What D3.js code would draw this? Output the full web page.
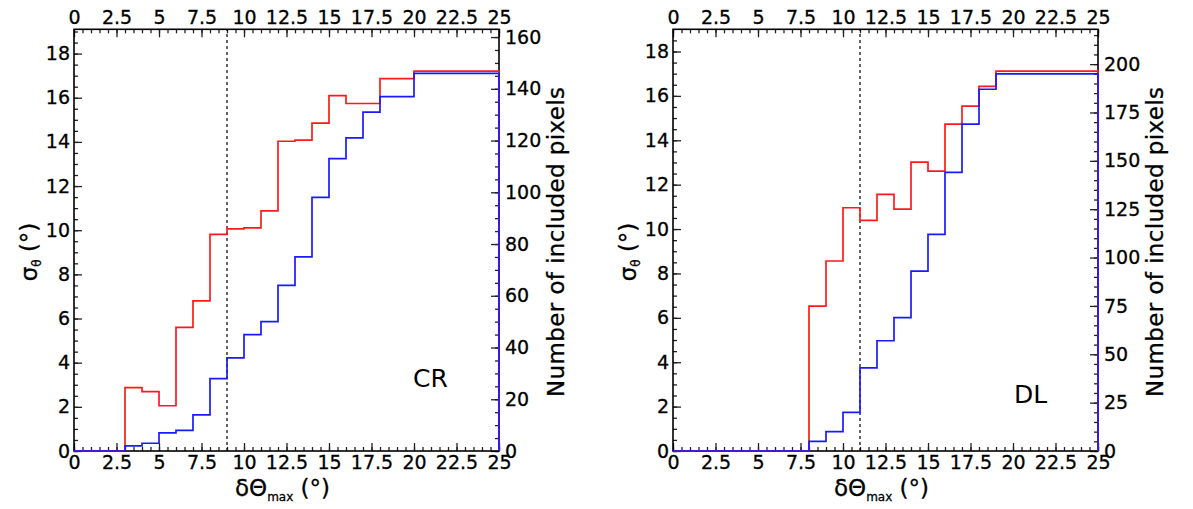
<!DOCTYPE html>
<html>
<head>
<meta charset="utf-8">
<script src="https://cdn.jsdelivr.net/npm/d3@7"></script>
<style>
  body { margin: 0; background: #fff; }
  svg text { font-family: "DejaVu Sans", sans-serif; fill: #000; }
</style>
</head>
<body>
<svg id="chart" width="1193" height="509"></svg>
<script>
// bin edges in degrees (last bin is 20-25)
var binEdges = [0, 1, 2, 3, 4, 5, 6, 7, 8, 9, 10, 11, 12, 13, 14, 15, 16, 17, 18, 19, 20, 25];

// CR panel
var crSigma = [0, 0, 0, 2.87, 2.69, 2.05, 5.6, 6.8, 9.81, 10.06, 10.11, 10.88, 14.03, 14.08, 14.85, 16.1, 15.74, 15.74, 16.87, 16.87, 17.21];
var crPixels = [0, 0, 0, 2, 3, 7, 8, 14, 28, 36, 45, 50, 64, 75, 98, 113, 121, 131, 137, 137, 146];
var crCut = 9;

// DL panel
var dlSigma = [0, 0, 0, 0, 0, 0, 0, 0, 6.53, 8.56, 10.96, 10.39, 11.56, 10.9, 13.02, 12.61, 14.73, 15.54, 16.43, 17.12, 17.12];
var dlPixels = [0, 0, 0, 0, 0, 0, 0, 0, 5, 10, 20, 43, 57, 69, 93, 112, 144, 169, 187, 195, 195];
var dlCut = 11;

var xTicks = [0, 2.5, 5, 7.5, 10, 12.5, 15, 17.5, 20, 22.5, 25];
var sigmaTicks = [0, 2, 4, 6, 8, 10, 12, 14, 16, 18];
var crPixelTicks = [0, 20, 40, 60, 80, 100, 120, 140, 160];
var dlPixelTicks = [0, 25, 50, 75, 100, 125, 150, 175, 200];

var svg = d3.select("#chart");

function stepPoints(values) {
    var pts = [[binEdges[0], 0]];
    values.forEach(function(v, i) {
        pts.push([binEdges[i], v]);
        pts.push([binEdges[i + 1], v]);
    });
    pts.push([binEdges[binEdges.length - 1], 0]);
    return pts;
}

function drawPanel(opt) {
    var top = 29.3, bottom = 451;
    var g = svg.append("g");

    var x = d3.scaleLinear().domain([0, 25]).range([opt.x0, opt.x1]);
    var y = d3.scaleLinear().domain([0, opt.sigmaMax]).range([bottom, top]);
    var y2 = d3.scaleLinear().domain([0, opt.pixMax]).range([bottom, top]);

    var minorX = d3.range(0, 25.01, 0.5);
    var minorY = d3.range(0, opt.sigmaMax, 0.5);
    var minorY2 = d3.range(0, opt.pixMax, 5);

    function clean(sel) {
        sel.select(".domain").remove();
        sel.selectAll("line").attr("stroke", "#222").attr("stroke-width", 1.3);
        sel.selectAll("text").style("font-size", "19px").attr("fill", "#000")
            .attr("stroke", "#000").attr("stroke-width", 0.3);
    }

    // minor ticks
    g.append("g").attr("transform", "translate(0," + bottom + ")")
        .call(d3.axisBottom(x).tickValues(minorX).tickSize(-4).tickFormat("")).call(clean);
    g.append("g").attr("transform", "translate(0," + top + ")")
        .call(d3.axisTop(x).tickValues(minorX).tickSize(-4).tickFormat("")).call(clean);
    g.append("g").attr("transform", "translate(" + opt.x0 + ",0)")
        .call(d3.axisLeft(y).tickValues(minorY).tickSize(-4).tickFormat("")).call(clean);
    g.append("g").attr("transform", "translate(" + opt.x1 + ",0)")
        .call(d3.axisRight(y2).tickValues(minorY2).tickSize(-4).tickFormat("")).call(clean);

    // major ticks + labels
    g.append("g").attr("transform", "translate(0," + bottom + ")")
        .call(d3.axisBottom(x).tickValues(xTicks).tickSize(-8).tickPadding(5).tickFormat(d => d)).call(clean);
    g.append("g").attr("transform", "translate(0," + top + ")")
        .call(d3.axisTop(x).tickValues(xTicks).tickSize(-8).tickPadding(5).tickFormat(d => d)).call(clean);
    g.append("g").attr("transform", "translate(" + opt.x0 + ",0)")
        .call(d3.axisLeft(y).tickValues(sigmaTicks).tickSize(-8).tickPadding(4).tickFormat(d => d)).call(clean);
    g.append("g").attr("transform", "translate(" + opt.x1 + ",0)")
        .call(d3.axisRight(y2).tickValues(opt.pixTicks).tickSize(-8).tickPadding(6).tickFormat(d => d)).call(clean);

    // frame
    g.append("rect")
        .attr("x", opt.x0).attr("y", top)
        .attr("width", opt.x1 - opt.x0).attr("height", bottom - top)
        .attr("fill", "none").attr("stroke", "#000").attr("stroke-width", 1.6);

    // cutoff
    g.append("line")
        .attr("x1", x(opt.cut)).attr("x2", x(opt.cut))
        .attr("y1", bottom).attr("y2", top)
        .attr("stroke", "#000").attr("stroke-width", 1.2)
        .attr("stroke-dasharray", "3,3");

    var lineS = d3.line().x(d => x(d[0])).y(d => y(d[1]));
    var lineP = d3.line().x(d => x(d[0])).y(d => y2(d[1]));

    g.append("path").attr("d", lineS(stepPoints(opt.sigma)))
        .attr("fill", "none").attr("stroke", "#ff1a1a").attr("stroke-width", 1.7);
    g.append("path").attr("d", lineP(stepPoints(opt.pixels)))
        .attr("fill", "none").attr("stroke", "#1a1aff").attr("stroke-width", 1.7);

    // axis titles
    var cx = (opt.x0 + opt.x1) / 2;
    var xt = g.append("text")
        .attr("x", cx - 4).attr("y", 496)
        .attr("text-anchor", "middle")
        .attr("stroke", "#000").attr("stroke-width", 0.3)
        .style("font-size", "23px");
    xt.append("tspan").text("δΘ");
    xt.append("tspan").attr("dy", 5).style("font-size", "12px").text("max");
    xt.append("tspan").attr("dy", -5).text(" (°)");

    var yt = g.append("text")
        .attr("transform", "translate(" + (opt.x0 - 37) + ",252) rotate(-90)")
        .attr("text-anchor", "middle")
        .attr("stroke", "#000").attr("stroke-width", 0.3)
        .style("font-size", "23px");
    yt.append("tspan").text("σ");
    yt.append("tspan").attr("dy", 4).style("font-size", "12px").text("θ");
    yt.append("tspan").attr("dy", -4).text(" (°)");

    g.append("text")
        .attr("transform", "translate(" + (opt.x1 + 65) + ",242) rotate(-90)")
        .attr("text-anchor", "middle")
        .attr("textLength", 310)
        .attr("stroke", "#000").attr("stroke-width", 0.3)
        .style("font-size", "23px")
        .text("Number of included pixels");

    g.append("text")
        .attr("x", opt.labelX).attr("y", opt.labelY)
        .style("font-size", "25px")
        .text(opt.label);
}

drawPanel({
    x0: 74, x1: 499,
    sigmaMax: 19.1, pixMax: 163,
    pixTicks: crPixelTicks,
    sigma: crSigma, pixels: crPixels,
    cut: crCut,
    label: "CR", labelX: 413, labelY: 387
});

drawPanel({
    x0: 673, x1: 1098,
    sigmaMax: 19.0, pixMax: 218,
    pixTicks: dlPixelTicks,
    sigma: dlSigma, pixels: dlPixels,
    cut: dlCut,
    label: "DL", labelX: 1014, labelY: 403
});
</script>
</body>
</html>
